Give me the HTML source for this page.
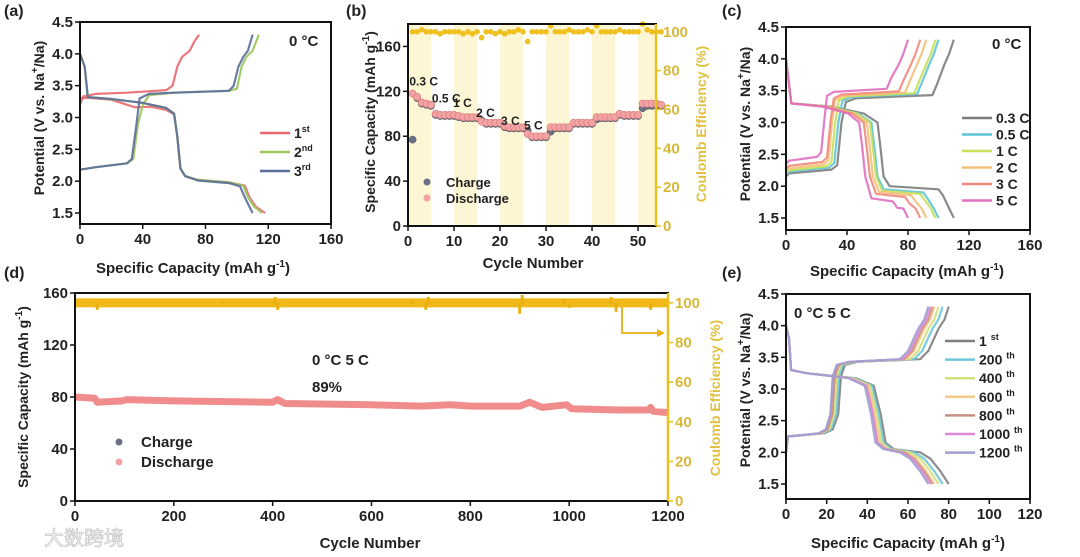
<!DOCTYPE html>
<html><head><meta charset="utf-8">
<style>
html,body{margin:0;padding:0;background:#fff;}
svg{display:block;font-family:"Liberation Sans","Noto Sans CJK SC",sans-serif;font-weight:bold;}
</style></head>
<body>
<svg id="fig" width="1080" height="557" viewBox="0 0 1080 557" xmlns="http://www.w3.org/2000/svg"></svg>
<script>
// ---------- Panel (a) data: [capacity, potential] ----------
const aCharge1 = [[0,3.2],[2,3.33],[10,3.37],[30,3.39],[55,3.43],[59,3.5],[62,3.8],[65,3.95],[70,4.05],[73,4.2],[76,4.3]];
const aDischarge1 = [[0,3.3],[5,3.31],[20,3.28],[30,3.2],[35,3.16],[45,3.17],[55,3.12],[60,3.05],[62,2.7],[64,2.2],[67,2.08],[75,2.02],[95,1.98],[105,1.93],[108,1.75],[112,1.6],[118,1.5]];
const aCharge2 = [[0,2.18],[10,2.22],[30,2.28],[34,2.35],[37,2.9],[40,3.2],[44,3.35],[60,3.39],[95,3.42],[100,3.45],[103,3.8],[106,3.95],[110,4.05],[114,4.3]];
const aDischarge2 = [[0,4.0],[3,3.8],[5,3.32],[20,3.29],[40,3.23],[55,3.15],[60,3.06],[62,2.7],[64,2.2],[67,2.08],[75,2.02],[95,1.98],[104,1.93],[107,1.75],[111,1.6],[116,1.5]];
const aCharge3 = [[0,2.18],[10,2.22],[30,2.28],[33,2.35],[36,2.9],[38,3.3],[44,3.37],[60,3.39],[95,3.42],[98,3.5],[101,3.8],[104,3.95],[107,4.05],[110,4.3]];
const aDischarge3 = [[0,4.0],[3,3.8],[5,3.32],[20,3.29],[40,3.23],[55,3.15],[60,3.06],[62,2.7],[64,2.2],[67,2.08],[75,2.01],[95,1.97],[102,1.92],[105,1.75],[108,1.6],[110,1.5]];
const aLabels = ["1st","2nd","3rd"];

// ---------- Panel (b) data ----------
const bCycles = Array.from({length:55},(_,i)=>i+1);
const bDischarge = [118,115,110,109,108, 100,99,99,99,99, 98,97,97,97,97, 93,92,92,92,92, 89,88,88,88,88, 82,80,80,80,80, 88,88,88,88,88, 92,92,92,92,92, 97,97,97,97,97, 100,99,99,99,99, 109,109,109,109,108];
const bCharge = [77,114,109,108,107, 99,98,98,98,98, 97,96,96,96,96, 94,91,91,91,91, 88,87,87,87,87, 85,79,79,79,79, 84,87,87,87,87, 91,91,91,91,91, 95,96,96,96,96, 99,98,98,98,98, 105,107,107,107,107];
const bCE = [100,100,101,100,100, 100,99,100,100,100, 100,99,100,99,100, 97,100,100,99,100, 99,100,100,101,100, 95,100,100,100,100, 103,100,100,100,101, 100,100,100,101,100, 103,100,100,100,100, 101,100,100,100,100, 104,101,100,100,100];
const bRateLabels = ["0.3 C","0.5 C","1 C","2 C","3 C","5 C"];
const bRateCycle = [0.3,5.2,9.8,14.8,20.2,25.2];
const bRateValue = [125,110,106,97,90,86];

// ---------- Panel (c) data ----------
const cLabels = ["0.3 C","0.5 C","1 C","2 C","3 C","5 C"];
const cEnd = [110,100,98,92,88,80];
const cLowV = [2.2,2.23,2.25,2.28,2.32,2.4];
const cJump = [35,33,31,29,28,24];
const cHighV = [3.4,3.42,3.43,3.44,3.46,3.5];
const cStep = [60,56,55,53,51,48];
const cDisLowV = [1.95,1.9,1.88,1.86,1.83,1.76];

// ---------- Panel (d) data ----------
const dDischarge = [[0,80],[40,79],[45,76],[95,77],[105,78],[200,77],[400,76],[410,78],[425,75],[600,74],[700,73],[760,74],[800,73],[900,73],[920,76],[945,72],[995,74],[1005,71],[1100,70],[1160,70],[1165,72],[1170,69],[1200,68]];
const dCE = [[0,100],[100,100],[300,100],[400,100],[600,100],[800,100],[1000,100],[1200,100]];
const dCESpikes = [[45,97],[300,101],[405,103],[410,97],[680,101],[710,97],[715,103],[900,95],[905,104],[990,102],[1000,98],[1085,103],[1095,96],[1165,97]];

// ---------- Panel (e) data ----------
const eLabels = ["1 st","200 th","400 th","600 th","800 th","1000 th","1200 th"];
const eEnd = [80,77,75,73,72,71,70];
const eJump = [27,26,25,24,24,23,23];
const eStep = [49,48,47,46,45,45,44];

const NS="http://www.w3.org/2000/svg";
const svg=document.getElementById('fig');
function el(tag,attrs,parent){const e=document.createElementNS(NS,tag);for(const k in attrs)e.setAttribute(k,attrs[k]);(parent||svg).appendChild(e);return e;}
function txt(s,x,y,attrs,parent){const t=el('text',Object.assign({x:x,y:y,'font-size':14,fill:'#222'},attrs||{}),parent);t.textContent=s;return t;}
function mkScale(d0,d1,p0,p1){return v=>p0+(v-d0)/(d1-d0)*(p1-p0);}
function pathOf(pts,sx,sy){return pts.map((p,i)=>(i?'L':'M')+sx(p[0]).toFixed(1)+','+sy(p[1]).toFixed(1)).join(' ');}

function axesFrame(g,x0,x1,y0,y1){
  const r=el('rect',{x:x0,y:y0,width:x1-x0,height:y1-y0,fill:'none',stroke:'#111','stroke-width':2},g);
  
  
}
function xTicks(g,sx,y1,vals,labels){
  vals.forEach((v,i)=>{
    el('line',{x1:sx(v),x2:sx(v),y1:y1,y2:y1+5,stroke:'#111','stroke-width':1.5},g);
    const t=txt(labels[i],sx(v),y1+20,{'text-anchor':'middle','font-size':15},g);
    
    
  });
}
function yTicks(g,sy,x0,vals,labels,color){
  vals.forEach((v,i)=>{
    el('line',{x1:x0-5,x2:x0,y1:sy(v),y2:sy(v),stroke:color||'#111','stroke-width':1.5},g);
    const t=txt(labels[i],x0-7,sy(v)+5,{'text-anchor':'end','font-size':15,fill:color||'#222'},g);
    
    
  });
}
function yTitle(g,s,x,cy,color){
  const t=txt(s,x,cy,{'text-anchor':'middle','font-size':14,transform:'rotate(-90 '+x+' '+cy+')',fill:color||'#222'},g);
  
  
  return t;
}
function xTitle(g,s,cx,y){
  const t=txt(s,cx,y,{'text-anchor':'middle','font-size':15},g);
  
  
  return t;
}
function capTitle(t){t.innerHTML='Specific Capacity (mAh g<tspan dy="-6" font-size="10">-1</tspan><tspan dy="6">)</tspan>';}
function potTitle(t){t.innerHTML='Potential (V vs. Na<tspan dy="-6" font-size="10">+</tspan><tspan dy="6">/Na)</tspan>';}
function panelLabel(s,x,y){const t=txt(s,x,y,{'font-size':16});}
function curve(g,pts,sx,sy,color,name){
  const p=el('path',{d:pathOf(pts,sx,sy),fill:'none',stroke:color,'stroke-width':2.2,'stroke-linejoin':'round',opacity:0.9},g);
  
  
}
function legendLine(g,x,y,color,label,name,sup){
  el('line',{x1:x,x2:x+30,y1:y,y2:y,stroke:color,'stroke-width':2.5},g);
  const t=txt(label,x+34,y+5,{'font-size':14},g);
  if(sup){t.innerHTML=label+'<tspan dy="-6" font-size="9">'+sup+'</tspan>';}
  
  
}

// ================= Panel (a) =================
(function(){
  const g=el('g',{});
  
  
  const x0=80,x1=331,y0=22,y1=224;
  const sx=mkScale(0,160,x0,x1), sy=mkScale(1.5,4.5,213,22);
  const cols=['#e8686e','#9bc65a','#5b6f9a'];
  const series=[[aCharge1,aDischarge1],[aCharge2,aDischarge2],[aCharge3,aDischarge3]];
  series.forEach((s,i)=>{curve(g,s[0],sx,sy,cols[i],'charge-curve-'+aLabels[i]);curve(g,s[1],sx,sy,cols[i],'discharge-curve-'+aLabels[i]);});
  axesFrame(g,x0,x1,y0,y1);
  xTicks(g,sx,y1,[0,40,80,120,160],['0','40','80','120','160']);
  yTicks(g,sy,x0,[1.5,2,2.5,3,3.5,4,4.5],['1.5','2.0','2.5','3.0','3.5','4.0','4.5']);
  potTitle(yTitle(g,'',44,118));
  capTitle(xTitle(g,'',193,273));
  const t=txt('0 °C',289,46,{'font-size':15},g);
  legendLine(g,260,133,cols[0],'1','legend-1st','st');
  legendLine(g,260,152,cols[1],'2','legend-2nd','nd');
  legendLine(g,260,171,cols[2],'3','legend-3rd','rd');
})();
panelLabel('(a)',4,16);

// ================= Panel (b) =================
(function(){
  const g=el('g',{});
  
  
  const x0=408,x1=656,y0=24,y1=226;
  const sx=mkScale(0,53.9,x0,x1), sy=mkScale(0,180,y1,y0), sy2=mkScale(0,104,y1,y0);
  [0,10,20,30,40,50].forEach(c=>{
    const r=el('rect',{x:sx(c),y:y0,width:Math.min(sx(c+5),x1)-sx(c),height:y1-y0,fill:'#fcf6d4'},g);
    
    
  });
  bCycles.forEach((c,i)=>{
    const a=el('circle',{cx:sx(c),cy:sy(bCharge[i]),r:3.6,fill:'#6a7088',stroke:'#555','stroke-width':0.5},g);
    
    
  });
  bCycles.forEach((c,i)=>{
    const a=el('circle',{cx:sx(c),cy:sy(bDischarge[i]),r:3.6,fill:'#f2a2a2',stroke:'#d97a7a','stroke-width':0.6},g);
    
    
  });
  bCycles.forEach((c,i)=>{
    const a=el('circle',{cx:sx(c),cy:sy2(bCE[i]),r:2.8,fill:'#f0c020'},g);
    
    
  });
  bRateLabels.forEach((s,i)=>{
    const t=txt(s,sx(bRateCycle[i]),sy(bRateValue[i]),{'font-size':12},g);
    
    
  });
  axesFrame(g,x0,x1,y0,y1);
  el('line',{x1:x1,x2:x1,y1:y0,y2:y1,stroke:'#e8c020','stroke-width':2.5},g);
  xTicks(g,sx,y1,[0,10,20,30,40,50],['0','10','20','30','40','50']);
  yTicks(g,sy,x0,[0,40,80,120,160],['0','40','80','120','160']);
  [0,20,40,60,80,100].forEach(v=>{
    el('line',{x1:x1,x2:x1+5,y1:sy2(v),y2:sy2(v),stroke:'#e8c020','stroke-width':1.5},g);
    const t=txt(String(v),x1+7,sy2(v)+5,{'font-size':15,fill:'#d8b838'},g);
    
    
  });
  capTitle(yTitle(g,'',375,122));
  yTitle(g,'Coulomb Efficiency (%)',706,124,'#e0c040');
  xTitle(g,'Cycle Number',533,268);
  el('circle',{cx:427,cy:182,r:3.5,fill:'#6a7088'},g);
  el('circle',{cx:427,cy:198,r:3.5,fill:'#f2a2a2'},g);
  const l1=txt('Charge',446,187,{'font-size':13},g);
  const l2=txt('Discharge',446,203,{'font-size':13},g);
})();
panelLabel('(b)',346,16);

// shape builders from per-series read values
function chargeCurve(end,low,jump,high,pe){return [[0,low-0.05],[2,low],[jump*0.85,low+0.06],[jump*0.96,low+0.13],[jump*1.04,3.0],[jump*1.12,high-0.08],[jump*1.3,high-0.02],[pe,high+0.03],[pe+3,high+0.2],[pe+(end-pe)*0.55,3.9],[end-3,4.08],[end,4.3]];}
function dischargeCurve(end,step,lowV){return [[0,4.0],[1.5,3.7],[3.5,3.3],[step*0.5,3.25],[step*0.85,3.14],[step,3.0],[step+2,2.6],[step+4,2.15],[step+8,lowV+0.05],[end-10,lowV],[end-7,lowV-0.1],[end-3,1.65],[end,1.5]];}

// ================= Panel (c) =================
(function(){
  const g=el('g',{});
  
  
  const x0=786,x1=1030,y0=27,y1=230;
  const sx=mkScale(0,160,x0,x1), sy=mkScale(1.5,4.5,218,27);
  const cols=['#7d7d7d','#5cc5d8','#c8e05a','#f5c07a','#ef8a7a','#e070c0'];
  cLabels.forEach((s,i)=>{
    curve(g,chargeCurve(cEnd[i],cLowV[i],cJump[i],cHighV[i],cEnd[i]-14),sx,sy,cols[i],'charge-curve-'+s);
    curve(g,dischargeCurve(cEnd[i],cStep[i],cDisLowV[i]),sx,sy,cols[i],'discharge-curve-'+s);
  });
  axesFrame(g,x0,x1,y0,y1);
  xTicks(g,sx,y1,[0,40,80,120,160],['0','40','80','120','160']);
  yTicks(g,sy,x0,[1.5,2,2.5,3,3.5,4,4.5],['1.5','2.0','2.5','3.0','3.5','4.0','4.5']);
  potTitle(yTitle(g,'',750,124));
  capTitle(xTitle(g,'',907,276));
  const t=txt('0 °C',992,49,{'font-size':15},g);
  cLabels.forEach((s,i)=>legendLine(g,962,118+i*16.5,cols[i],s,'legend-'+s.replace(/[ .]/g,'')));
})();
panelLabel('(c)',722,16);

// ================= Panel (d) =================
(function(){
  const g=el('g',{});
  
  
  const x0=75,x1=668,y0=293,y1=501;
  const sx=mkScale(0,1200,x0,x1), sy=mkScale(0,160,y1,y0), sy2=mkScale(0,105,y1,y0);
  const ce=el('path',{d:pathOf(dCE,sx,sy2),fill:'none',stroke:'#f0b818','stroke-width':9},g);
  
  
  dCESpikes.forEach(p=>{
    const c=el('rect',{x:sx(p[0])-1.5,y:Math.min(sy2(p[1]),sy2(100)),width:3,height:Math.abs(sy2(p[1])-sy2(100))+1,fill:'#e8b010'},g);
    
    
  });
  const dc=el('path',{d:pathOf(dDischarge,sx,sy),fill:'none',stroke:'#ee8080','stroke-width':7,'stroke-linejoin':'round',opacity:0.9},g);
  
  
  axesFrame(g,x0,x1,y0,y1);
  el('line',{x1:x1,x2:x1,y1:y0,y2:y1,stroke:'#e8c020','stroke-width':2.5},g);
  xTicks(g,sx,y1,[0,200,400,600,800,1000,1200],['0','200','400','600','800','1000','1200']);
  yTicks(g,sy,x0,[0,40,80,120,160],['0','40','80','120','160']);
  [0,20,40,60,80,100].forEach(v=>{
    el('line',{x1:x1,x2:x1+5,y1:sy2(v),y2:sy2(v),stroke:'#e8c020','stroke-width':1.5},g);
    const t=txt(String(v),x1+7,sy2(v)+5,{'font-size':15,fill:'#d8b838'},g);
    
    
  });
  const ar=el('path',{d:'M622,307 L622,333 L660,333',fill:'none',stroke:'#e8b010','stroke-width':1.8},g);
  
  
  el('path',{d:'M665,333 L657,329 L657,337 Z',fill:'#e8b010'},g);
  capTitle(yTitle(g,'',28,397));
  yTitle(g,'Coulomb Efficiency (%)',720,398,'#e0c040');
  xTitle(g,'Cycle Number',370,548);
  const t1=txt('0 °C   5 C',312,365,{'font-size':15},g);
  const t2=txt('89%',312,392,{'font-size':15},g);
  el('circle',{cx:119,cy:442,r:3.5,fill:'#6a7088'},g);
  el('circle',{cx:119,cy:462,r:3.5,fill:'#f2a2a2'},g);
  const l1=txt('Charge',141,447,{'font-size':15},g);
  const l2=txt('Discharge',141,467,{'font-size':15},g);
  const w=txt('大数跨境',44,545,{'font-size':20,fill:'#ffffff',stroke:'#c8c8c8','stroke-width':0.8,'font-weight':'normal'},g);
  
  
})();
panelLabel('(d)',4,278);

// ================= Panel (e) =================
(function(){
  const g=el('g',{});
  
  
  const x0=786,x1=1030,y0=294,y1=499;
  const sx=mkScale(0,120,x0,x1), sy=mkScale(1.5,4.5,484,294);
  const cols=['#808080','#6cc8dc','#d4e07a','#f3c98a','#c99080','#e08ad8','#a0a0d0'];
  eLabels.forEach((s,i)=>{
    const ch=[[0,2.0],[1,2.25],[eJump[i]*0.7,2.3],[eJump[i]*0.85,2.36],[eJump[i]*0.95,2.6],[eJump[i],3.2],[eJump[i]+2,3.38],[eJump[i]+8,3.43],[eEnd[i]-14,3.47],[eEnd[i]-10,3.6],[eEnd[i]-5,3.95],[eEnd[i]-2,4.1],[eEnd[i],4.3]];
    curve(g,ch,sx,sy,cols[i],'charge-curve-'+s.replace(' ',''));
    const dc=[[0,4.0],[1.5,3.8],[2.5,3.3],[10,3.25],[eStep[i]*0.7,3.17],[eStep[i]*0.88,3.05],[eStep[i]*0.95,2.6],[eStep[i],2.15],[eStep[i]+4,2.05],[eEnd[i]-14,2.0],[eEnd[i]-9,1.9],[eEnd[i]-4,1.7],[eEnd[i],1.5]];
    curve(g,dc,sx,sy,cols[i],'discharge-curve-'+s.replace(' ',''));
  });
  axesFrame(g,x0,x1,y0,y1);
  xTicks(g,sx,y1,[0,20,40,60,80,100,120],['0','20','40','60','80','100','120']);
  yTicks(g,sy,x0,[1.5,2,2.5,3,3.5,4,4.5],['1.5','2.0','2.5','3.0','3.5','4.0','4.5']);
  potTitle(yTitle(g,'',750,390));
  capTitle(xTitle(g,'',908,548));
  const t=txt('0 °C  5 C',794,318,{'font-size':15},g);
  eLabels.forEach((s,i)=>{
    const parts=s.split(' ');
    legendLine(g,945,341+i*18.6,cols[i],parts[0]+' ','legend-'+parts[0],parts[1]);
  });
})();
panelLabel('(e)',722,278);
</script>
</body></html>
